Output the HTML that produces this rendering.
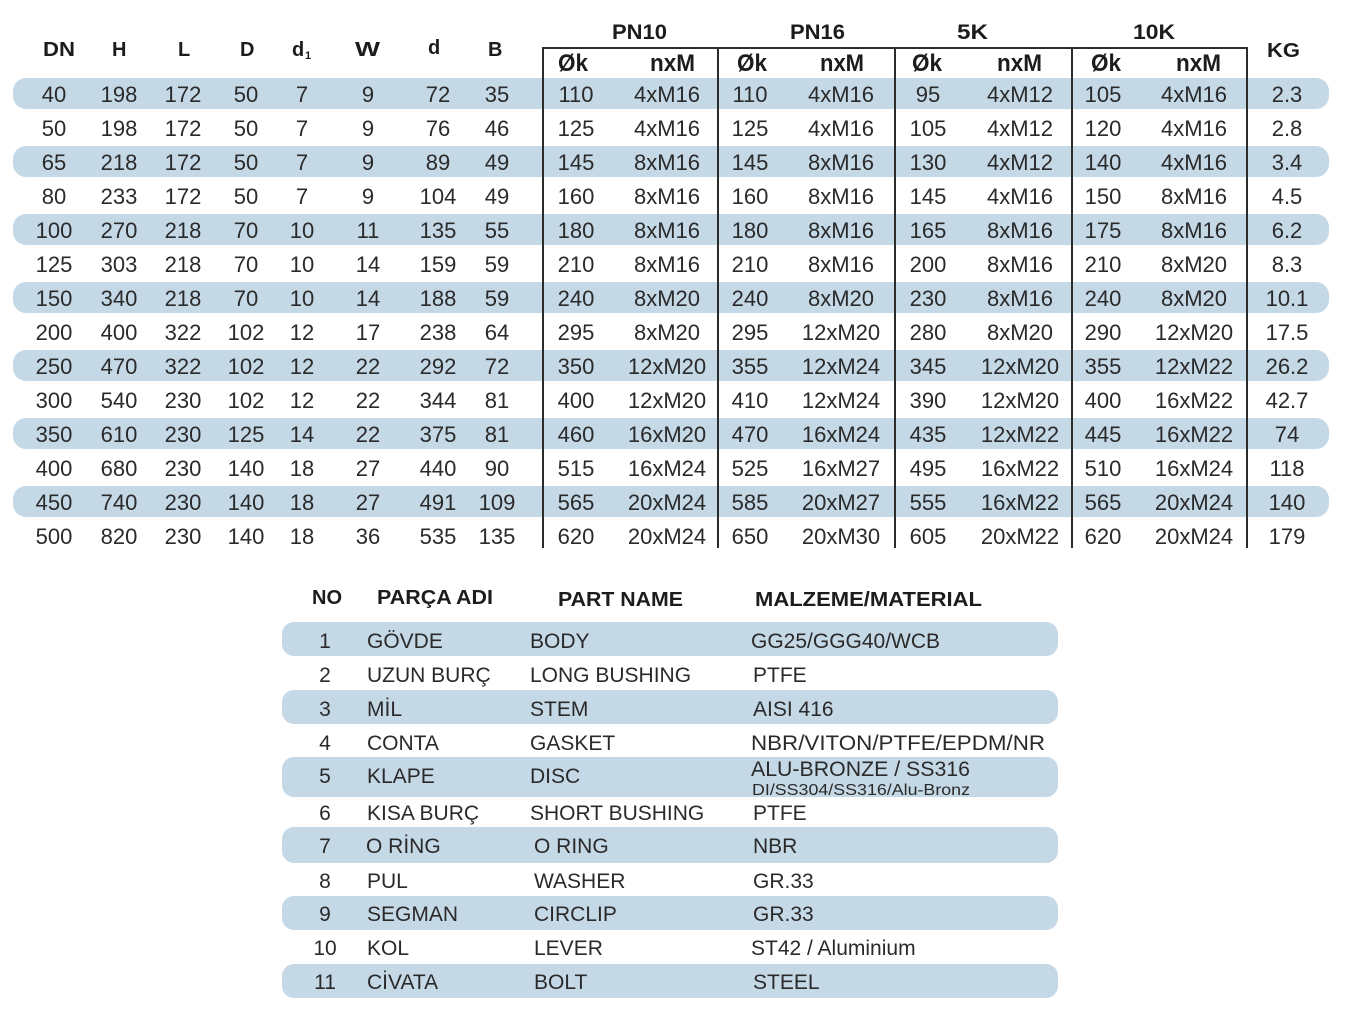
<!DOCTYPE html>
<html><head><meta charset="utf-8"><style>
html,body{margin:0;padding:0;background:#fff;}
svg{display:block;}
text{font-family:"Liberation Sans",Arial,sans-serif;}
.h{font-weight:bold;fill:#1c1c1c;font-size:20px;}
.d{fill:#2a2a2a;font-size:22px;text-anchor:middle;}
.b{fill:#2a2a2a;font-size:21px;}
</style></head><body>
<svg width="1356" height="1012" viewBox="0 0 1356 1012" xmlns="http://www.w3.org/2000/svg">
<rect width="1356" height="1012" fill="#fff"/>
<g fill="#c5d8e6">
<rect x="13" y="78" width="1316" height="31" rx="13"/>
<rect x="13" y="146" width="1316" height="31" rx="13"/>
<rect x="13" y="214" width="1316" height="31" rx="13"/>
<rect x="13" y="282" width="1316" height="31" rx="13"/>
<rect x="13" y="350" width="1316" height="31" rx="13"/>
<rect x="13" y="418" width="1316" height="31" rx="13"/>
<rect x="13" y="486" width="1316" height="31" rx="13"/>
<rect x="282" y="622" width="776" height="34" rx="12"/>
<rect x="282" y="690" width="776" height="34" rx="12"/>
<rect x="282" y="757" width="776" height="40" rx="12"/>
<rect x="282" y="827" width="776" height="36" rx="12"/>
<rect x="282" y="896" width="776" height="34" rx="12"/>
<rect x="282" y="964" width="776" height="34" rx="12"/>
</g>
<g stroke="#2b2b2b" stroke-width="2" fill="none">
<line x1="542" y1="48" x2="1248" y2="48"/>
<line x1="543" y1="48" x2="543" y2="548"/>
<line x1="718" y1="48" x2="718" y2="548"/>
<line x1="895" y1="48" x2="895" y2="548"/>
<line x1="1072" y1="48" x2="1072" y2="548"/>
<line x1="1247" y1="48" x2="1247" y2="548"/>
</g>
<!-- top headers -->
<g class="h">
<text x="43" y="56" textLength="32" lengthAdjust="spacingAndGlyphs">DN</text>
<text x="112" y="56">H</text>
<text x="178" y="56">L</text>
<text x="240" y="56">D</text>
<text x="292" y="56">d</text>
<text x="305" y="59" style="font-size:11px">1</text>
<text x="355" y="56" textLength="25" lengthAdjust="spacingAndGlyphs">W</text>
<text x="428" y="54">d</text>
<text x="488" y="56">B</text>
<text x="1267" y="57" textLength="33" lengthAdjust="spacingAndGlyphs">KG</text>
<text x="612" y="39" style="font-size:21px" textLength="55" lengthAdjust="spacingAndGlyphs">PN10</text>
<text x="790" y="39" style="font-size:21px" textLength="55" lengthAdjust="spacingAndGlyphs">PN16</text>
<text x="957" y="39" style="font-size:21px" textLength="31" lengthAdjust="spacingAndGlyphs">5K</text>
<text x="1133" y="39" style="font-size:21px" textLength="42" lengthAdjust="spacingAndGlyphs">10K</text>
</g>
<g class="h" style="font-size:24px">
<text x="558" y="71" textLength="30" lengthAdjust="spacingAndGlyphs">Øk</text>
<text x="650" y="71" textLength="45" lengthAdjust="spacingAndGlyphs">nxM</text>
<text x="737" y="71" textLength="30" lengthAdjust="spacingAndGlyphs">Øk</text>
<text x="820" y="71" textLength="44" lengthAdjust="spacingAndGlyphs">nxM</text>
<text x="912" y="71" textLength="30" lengthAdjust="spacingAndGlyphs">Øk</text>
<text x="997" y="71" textLength="45" lengthAdjust="spacingAndGlyphs">nxM</text>
<text x="1091" y="71" textLength="30" lengthAdjust="spacingAndGlyphs">Øk</text>
<text x="1176" y="71" textLength="45" lengthAdjust="spacingAndGlyphs">nxM</text>
</g>
<!-- data rows -->
<g class="d">
<text y="102"><tspan x="54">40</tspan><tspan x="119">198</tspan><tspan x="183">172</tspan><tspan x="246">50</tspan><tspan x="302">7</tspan><tspan x="368">9</tspan><tspan x="438">72</tspan><tspan x="497">35</tspan><tspan x="576">110</tspan><tspan x="667">4xM16</tspan><tspan x="750">110</tspan><tspan x="841">4xM16</tspan><tspan x="928">95</tspan><tspan x="1020">4xM12</tspan><tspan x="1103">105</tspan><tspan x="1194">4xM16</tspan><tspan x="1287">2.3</tspan></text>
<text y="136"><tspan x="54">50</tspan><tspan x="119">198</tspan><tspan x="183">172</tspan><tspan x="246">50</tspan><tspan x="302">7</tspan><tspan x="368">9</tspan><tspan x="438">76</tspan><tspan x="497">46</tspan><tspan x="576">125</tspan><tspan x="667">4xM16</tspan><tspan x="750">125</tspan><tspan x="841">4xM16</tspan><tspan x="928">105</tspan><tspan x="1020">4xM12</tspan><tspan x="1103">120</tspan><tspan x="1194">4xM16</tspan><tspan x="1287">2.8</tspan></text>
<text y="170"><tspan x="54">65</tspan><tspan x="119">218</tspan><tspan x="183">172</tspan><tspan x="246">50</tspan><tspan x="302">7</tspan><tspan x="368">9</tspan><tspan x="438">89</tspan><tspan x="497">49</tspan><tspan x="576">145</tspan><tspan x="667">8xM16</tspan><tspan x="750">145</tspan><tspan x="841">8xM16</tspan><tspan x="928">130</tspan><tspan x="1020">4xM12</tspan><tspan x="1103">140</tspan><tspan x="1194">4xM16</tspan><tspan x="1287">3.4</tspan></text>
<text y="204"><tspan x="54">80</tspan><tspan x="119">233</tspan><tspan x="183">172</tspan><tspan x="246">50</tspan><tspan x="302">7</tspan><tspan x="368">9</tspan><tspan x="438">104</tspan><tspan x="497">49</tspan><tspan x="576">160</tspan><tspan x="667">8xM16</tspan><tspan x="750">160</tspan><tspan x="841">8xM16</tspan><tspan x="928">145</tspan><tspan x="1020">4xM16</tspan><tspan x="1103">150</tspan><tspan x="1194">8xM16</tspan><tspan x="1287">4.5</tspan></text>
<text y="238"><tspan x="54">100</tspan><tspan x="119">270</tspan><tspan x="183">218</tspan><tspan x="246">70</tspan><tspan x="302">10</tspan><tspan x="368">11</tspan><tspan x="438">135</tspan><tspan x="497">55</tspan><tspan x="576">180</tspan><tspan x="667">8xM16</tspan><tspan x="750">180</tspan><tspan x="841">8xM16</tspan><tspan x="928">165</tspan><tspan x="1020">8xM16</tspan><tspan x="1103">175</tspan><tspan x="1194">8xM16</tspan><tspan x="1287">6.2</tspan></text>
<text y="272"><tspan x="54">125</tspan><tspan x="119">303</tspan><tspan x="183">218</tspan><tspan x="246">70</tspan><tspan x="302">10</tspan><tspan x="368">14</tspan><tspan x="438">159</tspan><tspan x="497">59</tspan><tspan x="576">210</tspan><tspan x="667">8xM16</tspan><tspan x="750">210</tspan><tspan x="841">8xM16</tspan><tspan x="928">200</tspan><tspan x="1020">8xM16</tspan><tspan x="1103">210</tspan><tspan x="1194">8xM20</tspan><tspan x="1287">8.3</tspan></text>
<text y="306"><tspan x="54">150</tspan><tspan x="119">340</tspan><tspan x="183">218</tspan><tspan x="246">70</tspan><tspan x="302">10</tspan><tspan x="368">14</tspan><tspan x="438">188</tspan><tspan x="497">59</tspan><tspan x="576">240</tspan><tspan x="667">8xM20</tspan><tspan x="750">240</tspan><tspan x="841">8xM20</tspan><tspan x="928">230</tspan><tspan x="1020">8xM16</tspan><tspan x="1103">240</tspan><tspan x="1194">8xM20</tspan><tspan x="1287">10.1</tspan></text>
<text y="340"><tspan x="54">200</tspan><tspan x="119">400</tspan><tspan x="183">322</tspan><tspan x="246">102</tspan><tspan x="302">12</tspan><tspan x="368">17</tspan><tspan x="438">238</tspan><tspan x="497">64</tspan><tspan x="576">295</tspan><tspan x="667">8xM20</tspan><tspan x="750">295</tspan><tspan x="841">12xM20</tspan><tspan x="928">280</tspan><tspan x="1020">8xM20</tspan><tspan x="1103">290</tspan><tspan x="1194">12xM20</tspan><tspan x="1287">17.5</tspan></text>
<text y="374"><tspan x="54">250</tspan><tspan x="119">470</tspan><tspan x="183">322</tspan><tspan x="246">102</tspan><tspan x="302">12</tspan><tspan x="368">22</tspan><tspan x="438">292</tspan><tspan x="497">72</tspan><tspan x="576">350</tspan><tspan x="667">12xM20</tspan><tspan x="750">355</tspan><tspan x="841">12xM24</tspan><tspan x="928">345</tspan><tspan x="1020">12xM20</tspan><tspan x="1103">355</tspan><tspan x="1194">12xM22</tspan><tspan x="1287">26.2</tspan></text>
<text y="408"><tspan x="54">300</tspan><tspan x="119">540</tspan><tspan x="183">230</tspan><tspan x="246">102</tspan><tspan x="302">12</tspan><tspan x="368">22</tspan><tspan x="438">344</tspan><tspan x="497">81</tspan><tspan x="576">400</tspan><tspan x="667">12xM20</tspan><tspan x="750">410</tspan><tspan x="841">12xM24</tspan><tspan x="928">390</tspan><tspan x="1020">12xM20</tspan><tspan x="1103">400</tspan><tspan x="1194">16xM22</tspan><tspan x="1287">42.7</tspan></text>
<text y="442"><tspan x="54">350</tspan><tspan x="119">610</tspan><tspan x="183">230</tspan><tspan x="246">125</tspan><tspan x="302">14</tspan><tspan x="368">22</tspan><tspan x="438">375</tspan><tspan x="497">81</tspan><tspan x="576">460</tspan><tspan x="667">16xM20</tspan><tspan x="750">470</tspan><tspan x="841">16xM24</tspan><tspan x="928">435</tspan><tspan x="1020">12xM22</tspan><tspan x="1103">445</tspan><tspan x="1194">16xM22</tspan><tspan x="1287">74</tspan></text>
<text y="476"><tspan x="54">400</tspan><tspan x="119">680</tspan><tspan x="183">230</tspan><tspan x="246">140</tspan><tspan x="302">18</tspan><tspan x="368">27</tspan><tspan x="438">440</tspan><tspan x="497">90</tspan><tspan x="576">515</tspan><tspan x="667">16xM24</tspan><tspan x="750">525</tspan><tspan x="841">16xM27</tspan><tspan x="928">495</tspan><tspan x="1020">16xM22</tspan><tspan x="1103">510</tspan><tspan x="1194">16xM24</tspan><tspan x="1287">118</tspan></text>
<text y="510"><tspan x="54">450</tspan><tspan x="119">740</tspan><tspan x="183">230</tspan><tspan x="246">140</tspan><tspan x="302">18</tspan><tspan x="368">27</tspan><tspan x="438">491</tspan><tspan x="497">109</tspan><tspan x="576">565</tspan><tspan x="667">20xM24</tspan><tspan x="750">585</tspan><tspan x="841">20xM27</tspan><tspan x="928">555</tspan><tspan x="1020">16xM22</tspan><tspan x="1103">565</tspan><tspan x="1194">20xM24</tspan><tspan x="1287">140</tspan></text>
<text y="544"><tspan x="54">500</tspan><tspan x="119">820</tspan><tspan x="183">230</tspan><tspan x="246">140</tspan><tspan x="302">18</tspan><tspan x="368">36</tspan><tspan x="438">535</tspan><tspan x="497">135</tspan><tspan x="576">620</tspan><tspan x="667">20xM24</tspan><tspan x="750">650</tspan><tspan x="841">20xM30</tspan><tspan x="928">605</tspan><tspan x="1020">20xM22</tspan><tspan x="1103">620</tspan><tspan x="1194">20xM24</tspan><tspan x="1287">179</tspan></text>
</g>
<!-- bottom table headers -->
<g class="h">
<text x="312" y="604" textLength="30" lengthAdjust="spacingAndGlyphs">NO</text>
<text x="377" y="604" textLength="116" lengthAdjust="spacingAndGlyphs">PARÇA ADI</text>
<text x="558" y="606" textLength="125" lengthAdjust="spacingAndGlyphs">PART NAME</text>
<text x="755" y="606" textLength="227" lengthAdjust="spacingAndGlyphs">MALZEME/MATERIAL</text>
</g>
<g class="b">
<text x="325" y="648" text-anchor="middle">1</text><text x="367" y="648">GÖVDE</text><text x="530" y="648">BODY</text><text x="751" y="648">GG25/GGG40/WCB</text>
<text x="325" y="682" text-anchor="middle">2</text><text x="367" y="682">UZUN BURÇ</text><text x="530" y="682">LONG BUSHING</text><text x="753" y="682">PTFE</text>
<text x="325" y="716" text-anchor="middle">3</text><text x="367" y="716">MİL</text><text x="530" y="716">STEM</text><text x="753" y="716">AISI 416</text>
<text x="325" y="750" text-anchor="middle">4</text><text x="367" y="750">CONTA</text><text x="530" y="750">GASKET</text><text x="751" y="750" textLength="294" lengthAdjust="spacingAndGlyphs">NBR/VITON/PTFE/EPDM/NR</text>
<text x="325" y="783" text-anchor="middle">5</text><text x="367" y="783">KLAPE</text><text x="530" y="783">DISC</text><text x="751" y="776" textLength="219" lengthAdjust="spacingAndGlyphs">ALU-BRONZE / SS316</text>
<text x="752" y="795" style="font-size:16px" textLength="218" lengthAdjust="spacingAndGlyphs">DI/SS304/SS316/Alu-Bronz</text>
<text x="325" y="820" text-anchor="middle">6</text><text x="367" y="820">KISA BURÇ</text><text x="530" y="820">SHORT BUSHING</text><text x="753" y="820">PTFE</text>
<text x="325" y="853" text-anchor="middle">7</text><text x="366" y="853">O RİNG</text><text x="534" y="853">O RING</text><text x="753" y="853">NBR</text>
<text x="325" y="888" text-anchor="middle">8</text><text x="367" y="888">PUL</text><text x="534" y="888">WASHER</text><text x="753" y="888">GR.33</text>
<text x="325" y="921" text-anchor="middle">9</text><text x="367" y="921">SEGMAN</text><text x="534" y="921">CIRCLIP</text><text x="753" y="921">GR.33</text>
<text x="325" y="955" text-anchor="middle">10</text><text x="367" y="955">KOL</text><text x="534" y="955">LEVER</text><text x="751" y="955">ST42 / Aluminium</text>
<text x="325" y="989" text-anchor="middle">11</text><text x="367" y="989">CİVATA</text><text x="534" y="989">BOLT</text><text x="753" y="989">STEEL</text>
</g>
</svg>
</body></html>
